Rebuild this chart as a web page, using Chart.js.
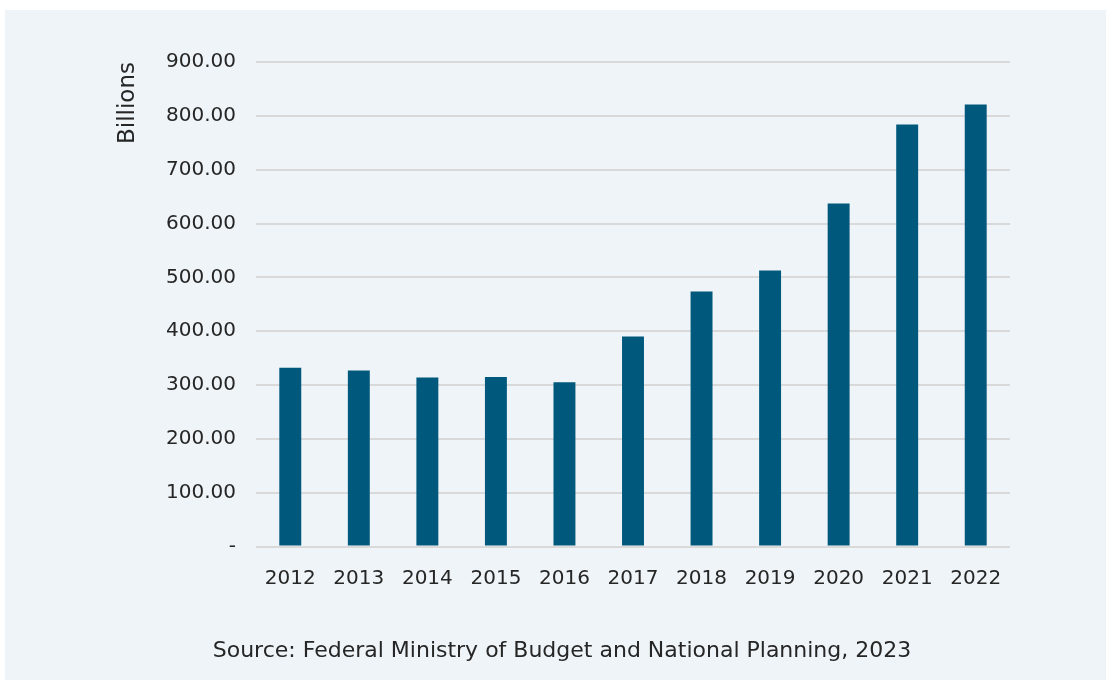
<!DOCTYPE html>
<html lang="en">
<head>
  <meta charset="UTF-8" />
  <title>Billions by year</title>
  <script src="https://cdn.jsdelivr.net/npm/chart.js"></script>
  <style>
    html, body { margin: 0; padding: 0; background: #fff; }
    #panel { position: absolute; left: 5px; top: 10px; width: 1101px; height: 670px; background: #eef4f7; }
  </style>
</head>
<body>
  <div id="panel"><canvas id="chart"></canvas></div>

  <script>
    const years = ["2012", "2013", "2014", "2015", "2016", "2017", "2018", "2019", "2020", "2021", "2022"];
    const billions = [332, 327, 314, 315, 305, 390, 474, 513, 637, 784, 821];
    const yTitle = "Billions";
    const sourceText = "Source: Federal Ministry of Budget and National Planning, 2023";

    const font = "'DejaVu Sans', 'Open Sans', sans-serif";
    const textColor = "#262626";

    new Chart(document.getElementById("chart"), {
      type: "bar",
      data: {
        labels: years,
        datasets: [{ data: billions, backgroundColor: "#00587c", barPercentage: 0.32, categoryPercentage: 1 }]
      },
      options: {
        responsive: true,
        maintainAspectRatio: false,
        animation: false,
        layout: { padding: { left: 109, right: 96, top: 52, bottom: 16 } },
        plugins: {
          legend: { display: false },
          tooltip: { enabled: false },
          title: {
            display: true,
            position: "bottom",
            text: sourceText,
            color: textColor,
            font: { family: font, size: 22, weight: "normal" },
            padding: { top: 35, bottom: 0 }
          }
        },
        scales: {
          x: {
            grid: { display: false },
            border: { display: false },
            ticks: { color: textColor, font: { family: font, size: 20 }, padding: 12, maxRotation: 0 }
          },
          y: {
            min: 0,
            max: 900,
            afterFit: s => { s.width = 142; },
            border: { display: false },
            grid: { color: "#d9d9d9", lineWidth: 2, drawTicks: false },
            ticks: {
              stepSize: 100,
              color: textColor,
              font: { family: font, size: 20 },
              padding: 20,
              callback: v => v === 0 ? "-" : v.toFixed(2)
            },
            title: {
              display: true,
              text: yTitle,
              align: "end",
              color: textColor,
              font: { family: font, size: 23 },
              padding: { top: 0, bottom: 10 }
            }
          }
        }
      }
    });
  </script>
</body>
</html>
